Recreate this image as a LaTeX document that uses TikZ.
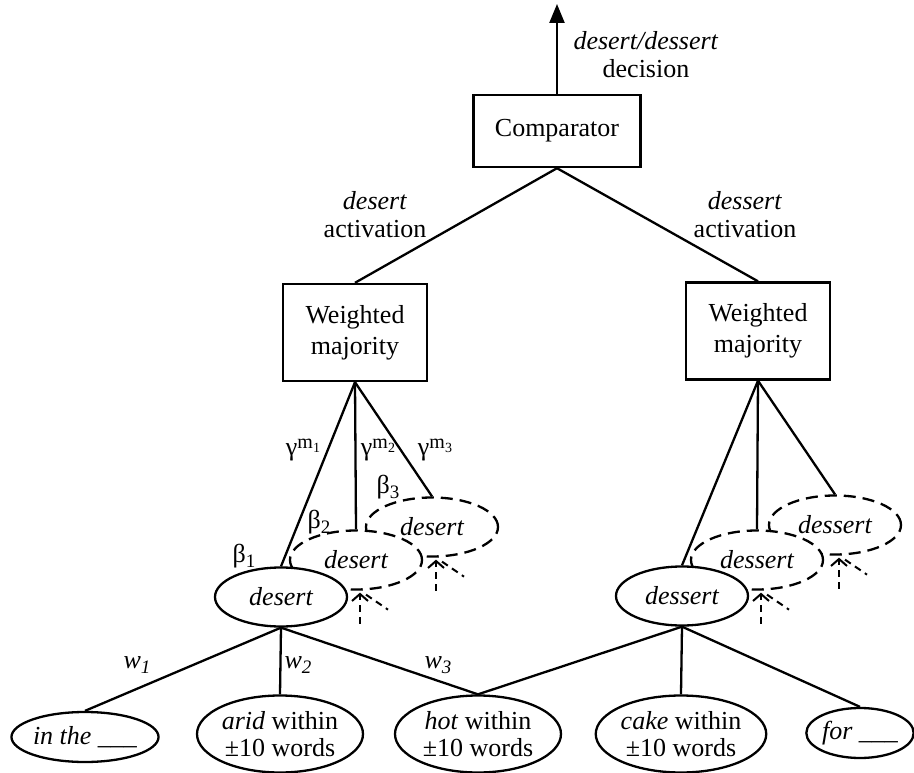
\documentclass[tikz,border=0pt]{standalone}
\usepackage{fontspec}
\setmainfont{Liberation Serif}
\usetikzlibrary{arrows.meta,calc,shapes.geometric}
\newcommand{\gmm}[1]{γ\raisebox{7pt}{\fontsize{20}{20}\selectfont m\raisebox{-4pt}{\fontsize{14}{14}\selectfont #1}}}
\newcommand{\bsub}[1]{β\raisebox{-5pt}{\fontsize{19}{19}\selectfont #1}}
\newcommand{\wsub}[1]{\textit{w}\raisebox{-5pt}{\fontsize{19}{19}\selectfont\itshape #1}}
\begin{document}
\begin{tikzpicture}[x=1pt,y=-1pt,
  conn/.style={line width=2.3pt},
  hid/.style={line width=2pt, dash pattern=on 7pt off 5pt},
  box/.style={draw, line width=2.4pt, fill=white, align=center, inner sep=0pt,
    minimum width=144pt, minimum height=97pt, font=\fontsize{26}{31}\selectfont},
  mainell/.style={ellipse, draw, line width=2.3pt, fill=white, inner sep=0pt,
    minimum width=132pt, minimum height=59pt, font=\fontsize{26}{30}\selectfont\itshape},
  hidell/.style={mainell, dash pattern=on 12pt off 7pt},
  feat/.style={ellipse, draw, line width=2.3pt, fill=white, inner sep=0pt, align=center,
    minimum width=166pt, minimum height=77pt, font=\fontsize{26}{26.5}\selectfont},
  featsmall/.style={feat, minimum height=50pt},
  lbl/.style={align=center, inner sep=0pt, font=\fontsize{26}{28}\selectfont},
  glbl/.style={inner sep=0pt, font=\fontsize{26}{28}\selectfont}
]
\useasboundingbox (0,0) rectangle (914,773);
\fill[white] (0,0) rectangle (914,773);

% top
\node[box, minimum width=167pt, minimum height=72pt] (comp) at (557,131) {Comparator};
\coordinate (out) at (557,4);
\draw[conn, -{Triangle[length=19pt,width=15pt]}] (comp.north) -- (out);
\node[lbl] (declbl) at (646,55) {\textit{desert/dessert}\\decision};

% weighted majority boxes
\node[box] (wmL) at (355,332.5) {Weighted\\majority};
\node[box] (wmR) at (758,331) {Weighted\\majority};
\draw[conn] (comp.south) -- (wmL.north);
\draw[conn] (comp.south) -- (wmR.north);
\node[lbl] (actL) at (375,215) {\textit{desert}\\activation};
\node[lbl] (actR) at (745,215) {\textit{dessert}\\activation};

% left ellipses
\node[hidell] (backL) at (432,527) {desert};
\node[hidell] (midL) at (356,560) {desert};
\node[mainell] (mainL) at (281,597) {desert};
\draw[conn] (wmL.south) -- (mainL.north);
\draw[conn] (wmL.south) -- (midL.north);
\draw[conn] (wmL.south) -- (backL.north);

% right ellipses
\node[hidell] (backR) at (835,525) {dessert};
\node[hidell] (midR) at (757,560) {dessert};
\node[mainell] (mainR) at (682,596) {dessert};
\draw[conn] (wmR.south) -- (mainR.north);
\draw[conn] (wmR.south) -- (midR.north);
\draw[conn] (wmR.south) -- (backR.north);

% hidden inputs
\foreach \e in {midL,backL,midR,backR}{
  \coordinate (\e tip) at ($(\e.south)+(4,2)$);
  \draw[hid, -{Straight Barb[length=7pt,width=16pt]}] ($(\e tip)+(0,31)$) -- (\e tip);
  \draw[hid] ($(\e tip)+(6,2)$) -- ($(\e tip)+(28,17)$);
}

% labels on gamma / beta
\node[glbl] (g1) at (303,450) {\gmm{1}};
\node[glbl] (g2) at (378,450) {\gmm{2}};
\node[glbl] (g3) at (435,450) {\gmm{3}};
\node[glbl] (b3) at (388,487) {\bsub{3}};
\node[glbl] (b2) at (319,522) {\bsub{2}};
\node[glbl] (b1) at (244,556) {\bsub{1}};

% features
\node[featsmall, minimum width=144pt] (inthe) at (85,737) {\textit{in the} \_\_\_};
\node[feat] (arid) at (280,734) {\textit{arid} within\\±10 words};
\node[feat] (hot) at (478,734) {\textit{hot} within\\±10 words};
\node[feat] (cake) at (681,734) {\textit{cake} within\\±10 words};
\node[featsmall, minimum width=106pt] (forn) at (860,733) {\textit{for} \_\_\_};

\draw[conn] (mainL.south) -- (inthe.north);
\draw[conn] (mainL.south) -- (arid.north);
\draw[conn] (mainL.south) -- (hot.north);
\draw[conn] (mainR.south) -- (hot.north);
\draw[conn] (mainR.south) -- (cake.north);
\draw[conn] (mainR.south) -- (forn.north);

\node[glbl] (w1) at (137,665) {\wsub{1}};
\node[glbl] (w2) at (298,665) {\wsub{2}};
\node[glbl] (w3) at (438,665) {\wsub{3}};
\end{tikzpicture}
\end{document}
